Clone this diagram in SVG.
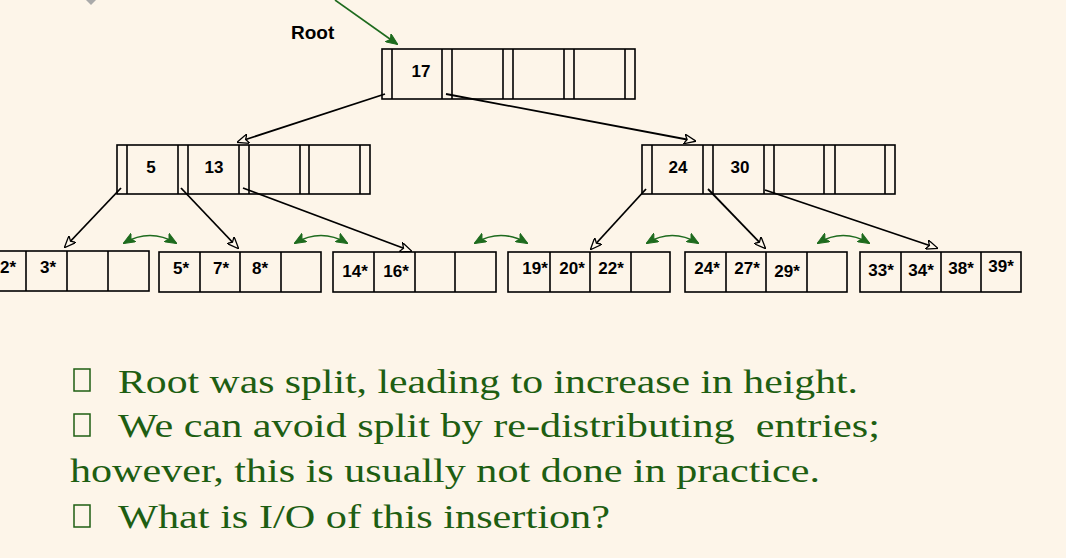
<svg xmlns="http://www.w3.org/2000/svg" width="1066" height="558" viewBox="0 0 1066 558">
<style>
.n{fill:none;stroke:#000;stroke-width:1.6}
.k{font-family:"Liberation Sans",Arial,sans-serif;font-weight:bold;font-size:17px;fill:#000;text-anchor:middle}
.c{stroke:#000;stroke-width:1.8;fill:none}
.g{stroke:#1e6b1e;stroke-width:1.6;fill:none}
.t{font-family:"Liberation Serif","Times New Roman",serif;font-size:34px;fill:#1e5e12}
</style>
<defs>
<marker id="a" viewBox="0 0 12 10" refX="11" refY="5" markerWidth="12" markerHeight="10" markerUnits="userSpaceOnUse" orient="auto"><path d="M0,0 L12,5 L0,10 L3,5 Z" fill="#fff8ec" stroke="#000" stroke-width="1.3"/></marker>
<marker id="ga" viewBox="0 0 12 10" refX="11" refY="5" markerWidth="12" markerHeight="10" markerUnits="userSpaceOnUse" orient="auto"><path d="M0,0 L12,5 L0,10 L3,5 Z" fill="#1e6b1e" stroke="#1e6b1e" stroke-width="1"/></marker>
<marker id="gs" viewBox="0 0 12 10" refX="1" refY="5" markerWidth="12" markerHeight="10" markerUnits="userSpaceOnUse" orient="auto"><path d="M12,0 L0,5 L12,10 L9,5 Z" fill="#1e6b1e" stroke="#1e6b1e" stroke-width="1"/></marker>
</defs>
<rect width="1066" height="558" fill="#fdf5e9"/>
<path d="M86,0 L96,0 L91,5 Z" fill="#aaa"/>
<text x="291" y="39" font-family="Liberation Sans,Arial,sans-serif" font-weight="bold" font-size="19">Root</text>

<g id="root">
<rect class="n" x="382" y="49" width="253" height="50"/>
<path class="n" d="M392,49V99M442,49V99M452,49V99M503,49V99M513,49V99M564,49V99M574,49V99M625,49V99"/>
<text class="k" x="421" y="77">17</text>
</g>
<g id="inner-left">
<rect class="n" x="117" y="145" width="253" height="49"/>
<path class="n" d="M127,145V194M178,145V194M188,145V194M239,145V194M249,145V194M300,145V194M309,145V194M360,145V194"/>
<text class="k" x="151" y="173">5</text>
<text class="k" x="214" y="173">13</text>
</g>
<g id="inner-right">
<rect class="n" x="642" y="145" width="253" height="49"/>
<path class="n" d="M652,145V194M703,145V194M713,145V194M764,145V194M774,145V194M824,145V194M835,145V194M885,145V194"/>
<text class="k" x="678" y="173">24</text>
<text class="k" x="740" y="173">30</text>
</g>
<g id="leaf1">
<rect class="n" x="-14" y="251" width="163" height="40"/>
<path class="n" d="M26,251V291M67,251V291M108,251V291"/>
<text class="k" x="8" y="273">2*</text><text class="k" x="48" y="273">3*</text>
</g>
<g id="leaf2">
<rect class="n" x="159" y="252" width="162" height="40"/>
<path class="n" d="M200,252V292M240,252V292M281,252V292"/>
<text class="k" x="181" y="274">5*</text><text class="k" x="221" y="274">7*</text><text class="k" x="260" y="274">8*</text>
</g>
<g id="leaf3">
<rect class="n" x="333" y="252" width="163" height="40"/>
<path class="n" d="M374,252V292M415,252V292M455,252V292"/>
<text class="k" x="355" y="277">14*</text><text class="k" x="396" y="277">16*</text>
</g>
<g id="leaf4">
<rect class="n" x="508" y="252" width="162" height="40"/>
<path class="n" d="M550,252V292M590,252V292M631,252V292"/>
<text class="k" x="535" y="274">19*</text><text class="k" x="572" y="274">20*</text><text class="k" x="611" y="274">22*</text>
</g>
<g id="leaf5">
<rect class="n" x="685" y="252" width="162" height="40"/>
<path class="n" d="M726,252V292M766,252V292M807,252V292"/>
<text class="k" x="707" y="274">24*</text><text class="k" x="747" y="274">27*</text><text class="k" x="787" y="277">29*</text>
</g>
<g id="leaf6">
<rect class="n" x="860" y="252" width="161" height="40"/>
<path class="n" d="M901,252V292M941,252V292M981,252V292"/>
<text class="k" x="881" y="276">33*</text><text class="k" x="921" y="276">34*</text><text class="k" x="961" y="274">38*</text><text class="k" x="1001" y="272">39*</text>
</g>

<g id="connectors">
<line class="g" x1="335" y1="0" x2="397" y2="44" marker-end="url(#ga)"/>
<line class="c" x1="385" y1="94" x2="238" y2="142" marker-end="url(#a)"/>
<line class="c" x1="446" y1="94" x2="695" y2="141" marker-end="url(#a)"/>
<line class="c" x1="121" y1="188" x2="65" y2="247" marker-end="url(#a)"/>
<line class="c" x1="181" y1="188" x2="238" y2="248" marker-end="url(#a)"/>
<line class="c" x1="243" y1="188" x2="411" y2="251" marker-end="url(#a)"/>
<line class="c" x1="646" y1="189" x2="591" y2="249" marker-end="url(#a)"/>
<line class="c" x1="708" y1="189" x2="765" y2="248" marker-end="url(#a)"/>
<line class="c" x1="765" y1="190" x2="937" y2="248" marker-end="url(#a)"/>
<path class="g" d="M124,243 Q150,228 176,243" marker-start="url(#gs)" marker-end="url(#ga)"/>
<path class="g" d="M295,243 Q321,228 347,243" marker-start="url(#gs)" marker-end="url(#ga)"/>
<path class="g" d="M475,243 Q501,228 527,243" marker-start="url(#gs)" marker-end="url(#ga)"/>
<path class="g" d="M647,243 Q672,228 698,243" marker-start="url(#gs)" marker-end="url(#ga)"/>
<path class="g" d="M818,243 Q843,228 869,243" marker-start="url(#gs)" marker-end="url(#ga)"/>
</g>

<g id="text">
<rect x="74" y="369" width="16" height="22" fill="none" stroke="#1e5e12" stroke-width="1.5"/>
<rect x="74" y="414" width="16" height="22" fill="none" stroke="#1e5e12" stroke-width="1.5"/>
<rect x="74" y="505" width="16" height="22" fill="none" stroke="#1e5e12" stroke-width="1.5"/>
<text class="t" x="118" y="393" textLength="740" lengthAdjust="spacingAndGlyphs">Root was split, leading to increase in height.</text>
<text class="t" x="118" y="437" textLength="762" lengthAdjust="spacingAndGlyphs" xml:space="preserve">We can avoid split by re-distributing  entries;</text>
<text class="t" x="70" y="482" textLength="750" lengthAdjust="spacingAndGlyphs">however, this is usually not done in practice.</text>
<text class="t" x="118" y="528" textLength="492" lengthAdjust="spacingAndGlyphs">What is I/O of this insertion?</text>
</g>
</svg>
